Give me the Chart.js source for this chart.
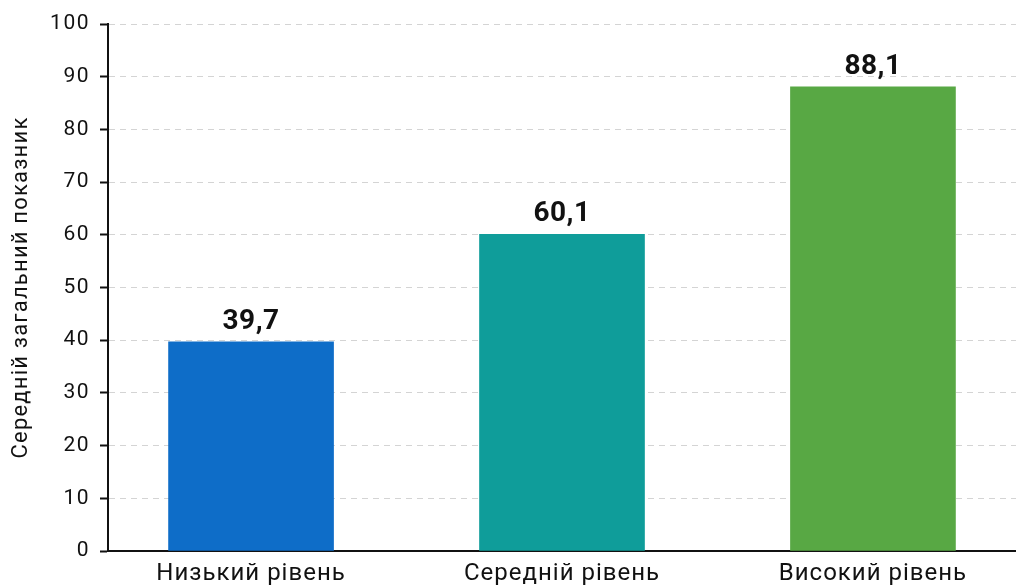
<!DOCTYPE html>
<html><head><meta charset="utf-8">
<script src="https://cdn.jsdelivr.net/npm/chart.js@4"></script>
<style>html,body{margin:0;padding:0;background:#fff}#wrap{width:1016px;height:587px}</style>
</head><body><div id="wrap"><canvas id="c" width="1016" height="587"></canvas></div>
<script>
const categories = ['Низький рівень', 'Середній рівень', 'Високий рівень'];
const values = [39.7, 60.1, 88.1];
const valueLabels = ['39,7', '60,1', '88,1'];
const barColors = ['#0e6dc8', '#0f9d9a', '#58a844'];
const yTicks = [0, 10, 20, 30, 40, 50, 60, 70, 80, 90, 100];
const yTitle = 'Середній загальний показник';

function withSpacing(fn, sp) {
  return function (a) {
    this.ctx.save();
    this.ctx.letterSpacing = sp;
    fn.call(this, a);
    this.ctx.restore();
  };
}

const spacingPlugin = {
  id: 'spacing',
  beforeDraw(chart) {
    const x = chart.scales.x, y = chart.scales.y;
    if (!x._wrapped) { x.drawLabels = withSpacing(x.drawLabels, '1px'); x._wrapped = true; }
    if (!y._wrapped) {
      y.drawLabels = withSpacing(y.drawLabels, '1.5px');
      y.drawTitle = withSpacing(y.drawTitle, '1.2px');
      y._wrapped = true;
    }
  }
};

const labelPlugin = {
  id: 'valueLabels',
  afterDatasetsDraw(chart) {
    const ctx = chart.ctx;
    const meta = chart.getDatasetMeta(0);
    ctx.save();
    ctx.font = 'bold 28px Roboto';
    ctx.letterSpacing = '0.5px';
    ctx.fillStyle = '#111';
    ctx.textAlign = 'center';
    ctx.textBaseline = 'alphabetic';
    meta.data.forEach((bar, i) => {
      ctx.fillText(valueLabels[i], bar.x, bar.y - 13);
    });
    ctx.restore();
  }
};

new Chart(document.getElementById('c'), {
  type: 'bar',
  data: {
    datasets: [{
      data: values.map((v, i) => ({x: i, y: v})),
      backgroundColor: barColors,
      barThickness: 165,
      borderWidth: 0
    }]
  },
  options: {
    responsive: false,
    animation: false,
    events: [],
    layout: {padding: {top: 24, right: 0, left: 0, bottom: 0}},
    plugins: {legend: {display: false}, tooltip: {enabled: false}},
    scales: {
      x: {
        type: 'linear',
        offset: false,
        min: -0.46, max: 2.46,
        afterBuildTicks(scale) { scale.ticks = categories.map((c, i) => ({value: i})); },
        afterFit(scale) { scale.height = 36; },
        grid: {display: false, drawTicks: false, offset: false},
        border: {display: true, color: '#111', width: 2},
        ticks: {
          callback: (v) => categories[v] ?? '',
          font: {family: 'Roboto', size: 24},
          color: '#111',
          padding: 9,
          maxRotation: 0, autoSkip: false
        }
      },
      y: {
        min: 0, max: 100,
        afterBuildTicks(scale) { scale.ticks = yTicks.map(v => ({value: v})); },
        afterFit(scale) { scale.width = 108; },
        grid: {color: '#d4d4d4', lineWidth: 1, tickColor: '#111', tickLength: 8, tickWidth: 2},
        border: {display: true, color: '#111', width: 2, dash: [6, 5]},
        ticks: {font: {family: 'Roboto', size: 21}, color: '#111', padding: 10},
        title: {display: true, text: yTitle, font: {family: 'Roboto', size: 22}, color: '#111', padding: {top: 8, bottom: 0}}
      }
    }
  },
  plugins: [spacingPlugin, labelPlugin]
});
</script></body></html>
